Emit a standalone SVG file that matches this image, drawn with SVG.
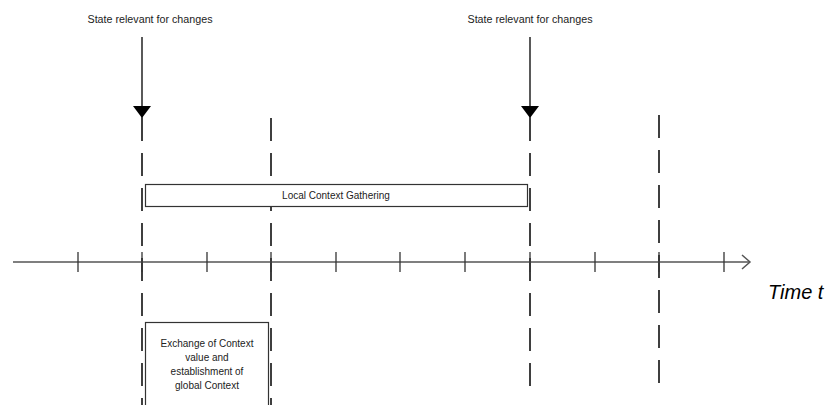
<svg xmlns="http://www.w3.org/2000/svg" width="826" height="405" viewBox="0 0 826 405">
<style>
.dash{stroke:#000;stroke-width:1.5;stroke-dasharray:23 12;fill:none}
.axis{stroke:#555;stroke-width:1.5;fill:none}
.tick{stroke:#333;stroke-width:1.3}
.box{fill:#fff;stroke:#333;stroke-width:1.2}
.lbl{font-family:"Liberation Sans",Arial,sans-serif;font-size:10px;fill:#222}
.arr{stroke:#000;stroke-width:1.3}
</style>
<defs>
<marker id="ah" viewBox="0 0 12 18" refX="12" refY="9" markerWidth="12" markerHeight="18" markerUnits="userSpaceOnUse" orient="auto">
<path d="M0,0 L12,9 L0,18 Z" fill="#000"/>
</marker>
</defs>
<g id="connectors">
<line class="dash" x1="142" y1="118" x2="142" y2="405"/>
<line class="dash" x1="271" y1="118" x2="271" y2="405"/>
<line class="dash" x1="530" y1="118" x2="530" y2="386"/>
<line class="dash" x1="659" y1="115" x2="659" y2="383"/>
<line class="arr" x1="142" y1="37" x2="142" y2="118" marker-end="url(#ah)"/>
<line class="arr" x1="530" y1="37" x2="530" y2="118" marker-end="url(#ah)"/>
<line class="axis" x1="13" y1="262" x2="750" y2="262"/>
<polyline class="axis" points="742,255 750,262 742,269"/>
<g class="tick">
<line x1="78" y1="252" x2="78" y2="272"/>
<line x1="142" y1="252" x2="142" y2="272"/>
<line x1="207" y1="252" x2="207" y2="272"/>
<line x1="271" y1="252" x2="271" y2="272"/>
<line x1="336" y1="252" x2="336" y2="272"/>
<line x1="400" y1="252" x2="400" y2="272"/>
<line x1="465" y1="252" x2="465" y2="272"/>
<line x1="530" y1="252" x2="530" y2="272"/>
<line x1="595" y1="252" x2="595" y2="272"/>
<line x1="659" y1="252" x2="659" y2="272"/>
<line x1="724" y1="252" x2="724" y2="272"/>
</g>
</g>
<g id="label1"><text class="lbl" x="150" y="23" text-anchor="middle" textLength="125" lengthAdjust="spacingAndGlyphs">State relevant for changes</text></g>
<g id="label2"><text class="lbl" x="530" y="23" text-anchor="middle" textLength="125" lengthAdjust="spacingAndGlyphs">State relevant for changes</text></g>
<g id="local">
<rect class="box" x="145.5" y="184.5" width="382" height="22"/>
<text class="lbl" x="336" y="199" text-anchor="middle">Local Context Gathering</text>
</g>
<g id="exchange">
<rect class="box" x="145.5" y="322.5" width="123" height="90"/>
<text class="lbl" x="207" y="347" text-anchor="middle">Exchange of Context</text>
<text class="lbl" x="207" y="361" text-anchor="middle">value and</text>
<text class="lbl" x="207" y="375" text-anchor="middle">establishment of</text>
<text class="lbl" x="207" y="389" text-anchor="middle">global Context</text>
</g>
<g id="time"><text x="768" y="299" font-family="'Liberation Sans',Arial,sans-serif" font-size="20" font-style="italic" fill="#000">Time t</text></g>
</svg>
